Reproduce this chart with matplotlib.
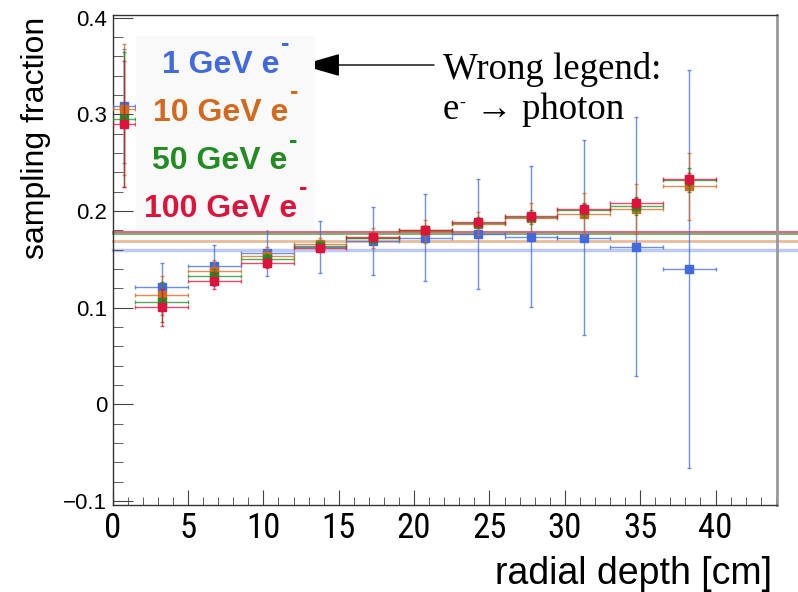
import matplotlib
matplotlib.use("Agg")
import matplotlib.pyplot as plt
from matplotlib.ticker import MultipleLocator
from matplotlib.patches import Rectangle
from matplotlib.colors import to_rgba

plt.rcParams['font.family'] = ['Liberation Sans', 'DejaVu Sans']

# ---------------- data ----------------
x_centers = [0.75, 3.25, 6.75, 10.25, 13.75, 17.25, 20.75, 24.25, 27.75, 31.25, 34.75, 38.25]
x_halfwidth = [0.75, 1.75, 1.75, 1.75, 1.75, 1.75, 1.75, 1.75, 1.75, 1.75, 1.75, 1.75]

blue_vals = [0.3086, 0.1214, 0.1434, 0.157, 0.163, 0.169, 0.1725, 0.1765, 0.1735, 0.1725, 0.163, 0.140]
blue_errs = [0.059, 0.025, 0.021, 0.024, 0.027, 0.035, 0.045, 0.057, 0.073, 0.101, 0.134, 0.206]

orange_vals = [0.305, 0.1128, 0.138, 0.1535, 0.166, 0.172, 0.179, 0.187, 0.193, 0.197, 0.202, 0.2255]
orange_errs = [0.068, 0.020, 0.011, 0.009, 0.006, 0.010, 0.012, 0.012, 0.015, 0.022, 0.026, 0.035]

green_vals = [0.2948, 0.1059, 0.133, 0.150, 0.164, 0.172, 0.180, 0.188, 0.194, 0.201, 0.205, 0.2317]
green_errs = [0.070, 0.021, 0.007, 0.006, 0.005, 0.005, 0.005, 0.006, 0.007, 0.007, 0.009, 0.0124]

red_vals = [0.2897, 0.1004, 0.128, 0.146, 0.1614, 0.1728, 0.1804, 0.1886, 0.1948, 0.2018, 0.208, 0.2328]
red_errs = [0.065, 0.019, 0.009, 0.005, 0.004, 0.004, 0.004, 0.004, 0.004, 0.005, 0.005, 0.006]

fit_levels = {'blue': 0.160, 'orange': 0.169, 'green': 0.1765, 'red': 0.1786}

series_labels = ['1 GeV e', '10 GeV e', '50 GeV e', '100 GeV e']
series_colors = ['#4169E1', '#D2691E', '#228B22', '#DC143C']

x_ticks = [0, 5, 10, 15, 20, 25, 30, 35, 40]
x_ticklabels = ['0', '5', '10', '15', '20', '25', '30', '35', '40']
y_ticks = [-0.1, 0.0, 0.1, 0.2, 0.3, 0.4]
y_ticklabels = ['\u22120.1', '0', '0.1', '0.2', '0.3', '0.4']

# ---------------- figure ----------------
W, H = 798, 592
fig = plt.figure(figsize=(W / 100, H / 100), dpi=100)
ax = fig.add_axes([112.7 / W, 1 - 505 / H, 664 / W, 490 / H])

all_vals = [blue_vals, orange_vals, green_vals, red_vals]
all_errs = [blue_errs, orange_errs, green_errs, red_errs]
fit_list = [fit_levels['blue'], fit_levels['orange'], fit_levels['green'], fit_levels['red']]
fit_lw = [2.5, 2.0, 1.2, 1.2]
fit_alpha = [0.35, 0.45, 0.75, 0.8]

for i, col in enumerate(series_colors):
    ax.axhline(fit_list[i], xmin=0, xmax=1.04, color=col, lw=fit_lw[i],
               alpha=fit_alpha[i], clip_on=False, zorder=1 + i * 0.1)
for i, (vals, errs, col) in enumerate(zip(all_vals, all_errs, series_colors)):
    ax.errorbar(x_centers, vals, xerr=x_halfwidth, yerr=errs, fmt='s', ms=5.5,
                mfc=col, mec=col, ecolor=to_rgba(col, 0.75), elinewidth=1.0,
                capsize=1.5, capthick=1.0, zorder=3 + i)

ax.set_xlim(0, 44.06)
ax.set_ylim(-0.104, 0.4027)
ax.set_xticks(x_ticks, labels=x_ticklabels)
ax.set_yticks(y_ticks, labels=y_ticklabels)
ax.xaxis.set_minor_locator(MultipleLocator(1))
ax.yaxis.set_minor_locator(MultipleLocator(0.02))
ax.tick_params(which='both', direction='in', top=False, right=False, color='#444444')
ax.tick_params(axis='x', which='major', length=10.8, pad=5)
ax.tick_params(axis='x', which='minor', length=5.8)
ax.tick_params(axis='y', which='major', length=14.4, pad=4, labelsize=16)
ax.tick_params(axis='y', which='minor', length=7.2)
for lbl in ax.get_xticklabels():
    lbl.set_fontfamily(['Liberation Sans Narrow', 'Roboto Condensed', 'Liberation Sans'])
    lbl.set_fontsize(25)

for side in ['left', 'bottom', 'top']:
    ax.spines[side].set_color('#333333')
    ax.spines[side].set_linewidth(1.0)
ax.spines['right'].set_color('#999999')
ax.spines['right'].set_linewidth(2.0)

# axis titles
fig.text(36 / W, 1 - 17 / H, 'sampling fraction', rotation=90, ha='center', va='top', fontsize=23)
fig.text(772 / W, 1 - 584 / H, 'radial depth [cm]', ha='right', va='baseline', fontsize=27)

renderer = fig.canvas.get_renderer()


def sup_dash(txt, gap_px, raise_px, size, **kw):
    bb = txt.get_window_extent(renderer)
    base_y = txt.get_position()[1] * H
    fig.text((bb.x1 + gap_px) / W, (base_y + raise_px) / H, '-', fontsize=size,
             ha='left', va='baseline', **kw)


# legend box
fig.add_artist(Rectangle((136 / W, 1 - 230 / H), 179 / W, 194 / H, transform=fig.transFigure,
                         facecolor='#f9f9f9', edgecolor='none', zorder=8))
baselines = [73, 121, 169, 217]
starts = [162, 153, 152, 144]
for lab, col, b, s in zip(series_labels, series_colors, baselines, starts):
    t = fig.text(s / W, 1 - b / H, lab, color=col, fontsize=23, fontweight='bold',
                 ha='left', va='baseline', zorder=9)
    sup_dash(t, 2, 21.5, 18, color=col, fontweight='bold', zorder=9)

# annotation
serif = ['Liberation Serif', 'DejaVu Serif']
fig.text(443 / W, 1 - 79 / H, 'Wrong legend:', family=serif,
         fontsize=26.5, ha='left', va='baseline', zorder=9)
te = fig.text(443 / W, 1 - 119 / H, 'e', family=serif, fontsize=26.5,
              ha='left', va='baseline', zorder=9)
sup_dash(te, 0.5, 11.5, 13, family=serif, zorder=9)
fig.text(476 / W, 1 - 119 / H, '\u2192 photon', family=serif, fontsize=26.5,
         ha='left', va='baseline', zorder=9)
ax.annotate('', xy=(301, H - 65), xycoords='figure pixels', xytext=(434, H - 65),
            textcoords='figure pixels',
            arrowprops=dict(arrowstyle='-|>,head_length=1.25,head_width=0.36', color='black',
                            lw=1.0, mutation_scale=20, shrinkA=0, shrinkB=0), zorder=10)

fig.savefig('out.png', dpi=100)
